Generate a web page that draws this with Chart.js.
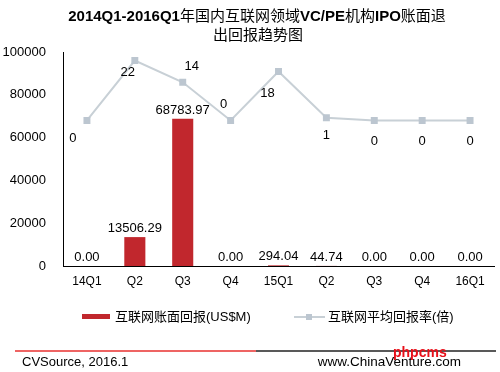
<!DOCTYPE html>
<html>
<head>
<meta charset="utf-8">
<script src="https://cdn.jsdelivr.net/npm/chart.js@4/dist/chart.umd.min.js"></script>
<style>
  html, body { margin: 0; padding: 0; background: #fff; }
  #wrap { width: 500px; height: 372px; position: relative; }
</style>
</head>
<body>
<div id="wrap"><canvas id="c" width="500" height="372"></canvas></div>
<script>
const categories = ['14Q1', 'Q2', 'Q3', 'Q4', '15Q1', 'Q2', 'Q3', 'Q4', '16Q1'];
const bookReturn = [0, 13506.29, 68783.97, 0, 294.04, 44.74, 0, 0, 0];
const avgMultiple = [0, 22, 14, 0, 18, 1, 0, 0, 0];
const yTicks = [0, 20000, 40000, 60000, 80000, 100000];

// where each line label sits relative to its point (dx, dy)
const lineLabelOffsets = [[-14, 18], [-7, 12], [9, -16], [-7, -16], [-11, 22], [0, 18], [0, 21], [0, 21], [0, 21]];

const FONT = '"Liberation Sans", Arial, "Noto Sans CJK SC", sans-serif';
const CJK = '"Liberation Sans", "Noto Sans CJK SC", sans-serif';

// title pieces: latin parts bold, chinese parts regular
function drawMixed(ctx, text, cx, y, size) {
  const parts = text.match(/[\x00-\x7f]+|[^\x00-\x7f]+/g);
  const fontFor = p => (/^[\x00-\x7f]/.test(p) ? 'bold ' : '') + size + 'px ' + CJK;
  let total = 0;
  parts.forEach(p => { ctx.font = fontFor(p); total += ctx.measureText(p).width; });
  let x = cx - total / 2;
  ctx.textAlign = 'left';
  parts.forEach(p => {
    ctx.font = fontFor(p);
    ctx.fillText(p, x, y);
    x += ctx.measureText(p).width;
  });
}

const labelsPlugin = {
  id: 'labels',
  afterDatasetsDraw(chart) {
    const ctx = chart.ctx;
    ctx.save();
    ctx.fillStyle = '#000';
    ctx.font = '13px ' + FONT;
    ctx.textAlign = 'center';
    ctx.textBaseline = 'bottom';
    chart.getDatasetMeta(0).data.forEach((bar, i) => {
      ctx.fillText(bookReturn[i].toFixed(2), bar.x, bar.y - 2);
    });
    ctx.textBaseline = 'middle';
    chart.getDatasetMeta(1).data.forEach((pt, i) => {
      const o = lineLabelOffsets[i];
      ctx.fillText(String(avgMultiple[i]), pt.x + o[0], pt.y + o[1]);
    });
    ctx.restore();
  },
  afterDraw(chart) {
    const ctx = chart.ctx;
    ctx.save();
    // title
    ctx.fillStyle = '#000';
    ctx.textBaseline = 'middle';
    drawMixed(ctx, '2014Q1-2016Q1年国内互联网领域VC/PE机构IPO账面退', 257, 17, 15);
    drawMixed(ctx, '出回报趋势图', 258, 36, 15);

    // legend
    ctx.textAlign = 'left';
    ctx.font = '13px ' + CJK;
    ctx.fillStyle = '#c1272d';
    ctx.fillRect(82, 314, 28, 5);
    ctx.fillStyle = '#000';
    ctx.fillText('互联网账面回报(US$M)', 115, 317);
    ctx.strokeStyle = '#c8d0d6';
    ctx.lineWidth = 2;
    ctx.beginPath();
    ctx.moveTo(294, 317);
    ctx.lineTo(325, 317);
    ctx.stroke();
    ctx.fillStyle = '#bcc6d0';
    ctx.fillRect(306, 314, 6, 6);
    ctx.fillStyle = '#000';
    ctx.fillText('互联网平均回报率(倍)', 328, 317);

    // footer rules
    ctx.lineWidth = 1.5;
    ctx.strokeStyle = '#e8312f';
    ctx.beginPath();
    ctx.moveTo(15, 351);
    ctx.lineTo(256, 351);
    ctx.stroke();
    ctx.strokeStyle = '#222';
    ctx.beginPath();
    ctx.moveTo(256, 351);
    ctx.lineTo(496, 351);
    ctx.stroke();

    ctx.font = '13px ' + FONT;
    ctx.fillStyle = '#000';
    ctx.fillText('CVSource, 2016.1', 22, 362);
    ctx.textAlign = 'right';
    ctx.font = '13.5px ' + FONT;
    ctx.fillText('www.ChinaVenture.com', 461, 362);
    ctx.fillStyle = '#e8101a';
    ctx.font = 'bold 14px ' + FONT;
    ctx.textAlign = 'left';
    ctx.fillText('phpcms', 393, 353);
    ctx.restore();
  }
};

new Chart(document.getElementById('c'), {
  data: {
    labels: categories,
    datasets: [
      {
        type: 'bar',
        label: '互联网账面回报(US$M)',
        data: bookReturn,
        backgroundColor: '#c1272d',
        barPercentage: 0.44,
        categoryPercentage: 1,
        yAxisID: 'y',
        order: 2
      },
      {
        type: 'line',
        label: '互联网平均回报率(倍)',
        data: avgMultiple,
        borderColor: '#c8d0d6',
        borderWidth: 2,
        pointStyle: 'rect',
        pointRadius: 3.5,
        pointBackgroundColor: '#bcc6d0',
        pointBorderColor: '#bcc6d0',
        tension: 0,
        yAxisID: 'y1',
        order: 1
      }
    ]
  },
  options: {
    responsive: false,
    animation: false,
    layout: { padding: { top: 52, bottom: 82, left: 0, right: 5 } },
    plugins: {
      legend: { display: false },
      tooltip: { enabled: false }
    },
    scales: {
      x: {
        grid: { display: false, drawTicks: false },
        border: { color: '#000', width: 1 },
        ticks: { color: '#000', font: { size: 12, family: FONT }, padding: 8 },
        afterFit(s) { s.height = 24; }
      },
      y: {
        min: 0,
        max: 100000,
        afterBuildTicks(s) { s.ticks = yTicks.map(v => ({ value: v })); },
        grid: { display: false, drawTicks: false },
        border: { color: '#000', width: 1 },
        ticks: {
          color: '#000',
          font: { size: 13, family: FONT },
          padding: 17,
          callback: v => String(v)
        },
        afterFit(s) { s.width = 63; }
      },
      y1: {
        display: false,
        min: -53.43,
        max: 25.14
      }
    }
  },
  plugins: [labelsPlugin]
});
</script>
</body>
</html>
